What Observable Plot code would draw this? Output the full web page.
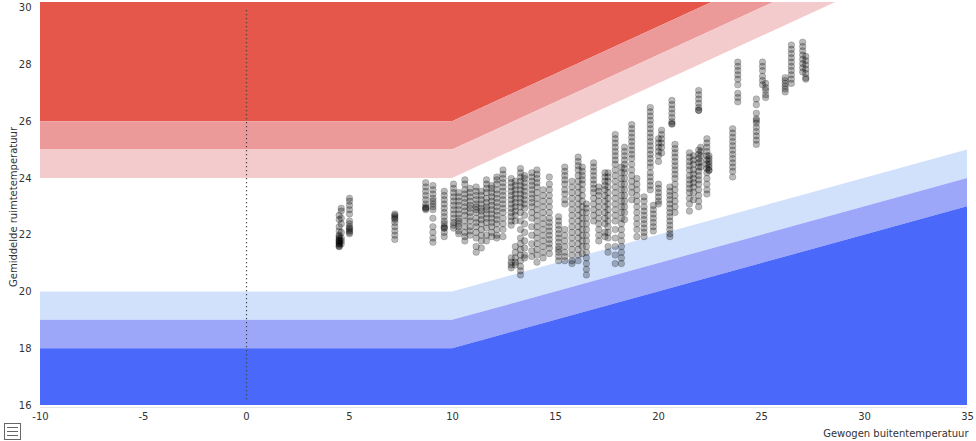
<!DOCTYPE html>
<html>
<head>
<meta charset="utf-8">
<script src="https://cdn.jsdelivr.net/npm/d3@7"></script>
<script src="https://cdn.jsdelivr.net/npm/@observablehq/plot@0.6"></script>
<style>
  html, body { margin: 0; padding: 0; background: #fff; }
  #wrap { position: relative; width: 976px; height: 441px; }
  #menu { position: absolute; left: 4px; top: 423px; }
</style>
</head>
<body>
<div id="wrap"></div>
<script>
// Axis ticks
const xTicks = [-10, -5, 0, 5, 10, 15, 20, 25, 30, 35];
const yTicks = [16, 18, 20, 22, 24, 26, 28, 30];

// Comfort band boundaries (outdoor temperature breakpoints)
const bandX  = [-10, 10, 35];
const upperA = [24, 24, 32.33];
const upperB = [25, 25, 33.33];
const upperC = [26, 26, 34.33];
const lowerA = [20, 20, 25];
const lowerB = [19, 19, 24];
const lowerC = [18, 18, 23];

// Measurements: weighted outdoor temperature per column, with room temperatures
const outdoorTemp = [
  4.5, 4.6, 5.0, 7.2, 8.7, 9.05, 9.6, 10.05, 10.3, 10.6,
  10.85, 11.15, 11.4, 11.65, 11.9, 12.15, 12.45, 12.85, 13.05, 13.3,
  13.5, 13.85, 14.1, 14.4, 14.7, 15.15, 15.45, 15.8, 16.1, 16.3,
  16.5, 16.85, 17.1, 17.4, 17.55, 17.9, 18.2, 18.35, 18.7, 18.95,
  19.3, 19.6, 19.75, 20.0, 20.15, 20.55, 20.65, 20.8, 21.5, 21.7,
  21.95, 22.05, 22.35, 22.45, 23.6, 23.85, 24.75, 25.05, 25.2, 26.15,
  26.45, 27.0, 27.15
];
const roomTemp = [
  [22.7, 22.55, 22.3, 22.15, 22.0, 21.95, 21.9, 21.85, 21.8, 21.8, 21.75, 21.7, 21.7, 21.65, 21.6, 21.6],
  [22.95, 22.85, 22.6, 22.4, 22.1, 21.9, 21.8, 21.7],
  [23.3, 23.2, 23.05, 22.9, 22.75, 22.5, 22.4, 22.3, 22.25, 22.2, 22.15, 22.1, 22.05],
  [22.75, 22.7, 22.65, 22.6, 22.55, 22.45, 22.3, 22.15, 22.0, 21.85],
  [23.85, 23.7, 23.55, 23.4, 23.25, 23.1, 23.0, 22.95, 22.95, 22.9],
  [23.75, 23.6, 23.45, 23.3, 23.2, 23.1, 23.0, 22.9, 22.6, 22.3, 22.1, 21.9, 21.75],
  [23.55, 23.4, 23.25, 23.1, 22.95, 22.8, 22.65, 22.5, 22.4, 22.3, 22.25, 22.25, 22.1, 21.95],
  [23.8, 23.65, 23.5, 23.35, 23.2, 23.05, 22.9, 22.75, 22.6, 22.45, 22.35, 22.25],
  [23.5, 23.35, 23.2, 23.05, 22.9, 22.75, 22.6, 22.5, 22.4, 22.3, 22.15, 22.05],
  [23.95, 23.8, 23.6, 23.45, 23.3, 23.15, 23.0, 22.85, 22.7, 22.5, 22.3, 22.1, 21.95, 21.8],
  [23.65, 23.5, 23.35, 23.2, 23.05, 22.95, 22.8, 22.65, 22.5, 22.3, 22.15, 22.0],
  [23.7, 23.55, 23.4, 23.25, 23.1, 23.0, 22.9, 22.8, 22.6, 22.45, 22.3, 22.1, 21.9, 21.6, 21.4],
  [23.55, 23.4, 23.25, 23.1, 22.95, 22.85, 22.7, 22.55, 22.4, 22.2, 22.0, 21.8, 21.55],
  [23.95, 23.8, 23.65, 23.5, 23.3, 23.15, 23.0, 22.9, 22.75, 22.6, 22.45, 22.25, 22.0, 21.8],
  [23.75, 23.65, 23.5, 23.35, 23.2, 23.05, 22.9, 22.75, 22.6, 22.45, 22.3, 22.1, 21.95],
  [24.05, 23.95, 23.8, 23.6, 23.45, 23.3, 23.15, 23.0, 22.85, 22.7, 22.55, 22.4, 22.2, 22.0, 21.9],
  [24.3, 24.15, 24.0, 23.85, 23.7, 23.55, 23.4, 23.25, 23.1, 22.95, 22.8, 22.6, 22.4, 22.2, 21.95],
  [24.0, 23.85, 23.7, 23.55, 23.4, 23.25, 23.1, 22.95, 22.8, 22.65, 22.5, 22.35, 21.2, 21.05, 20.95, 20.85],
  [23.9, 23.75, 23.6, 23.45, 23.3, 23.15, 23.0, 22.85, 22.7, 22.5, 21.6, 21.4, 21.2, 21.05, 20.95],
  [24.35, 24.2, 24.05, 23.9, 23.75, 23.6, 23.45, 23.3, 23.15, 23.0, 22.8, 22.5, 22.2, 21.9, 21.7, 21.5, 21.3, 21.1, 20.9, 20.75, 20.6],
  [24.1, 24.0, 23.85, 23.7, 23.55, 23.4, 23.25, 23.1, 22.95, 22.7, 22.4, 22.1, 21.8, 21.55, 21.3, 21.2],
  [24.2, 24.05, 23.9, 23.75, 23.6, 23.45, 23.3, 23.15, 23.0, 22.8, 22.6, 22.3, 22.0, 21.7, 21.45, 21.25],
  [24.3, 24.15, 24.0, 23.85, 23.7, 23.5, 23.3, 23.1, 22.9, 22.7, 22.5, 22.3, 22.1, 21.9, 21.7, 21.5, 21.3, 21.05],
  [23.6, 23.4, 23.2, 23.0, 22.8, 22.6, 22.4, 22.2, 22.0, 21.8, 21.6, 21.4, 21.2],
  [24.05, 23.8, 23.6, 23.4, 23.2, 23.0, 22.8, 22.6, 22.45, 22.3, 22.15, 22.0, 21.85, 21.7, 21.55, 21.35],
  [22.65, 22.5, 22.35, 22.2, 22.05, 21.9, 21.75, 21.6, 21.5, 21.4, 21.25, 21.1],
  [24.4, 24.25, 24.1, 23.95, 23.8, 23.6, 23.45, 23.25, 23.1, 22.2, 22.0, 21.8, 21.6, 21.4, 21.25, 21.1],
  [23.9, 23.7, 23.5, 23.3, 23.1, 22.9, 22.7, 22.5, 22.3, 22.1, 21.9, 21.7, 21.5, 21.3, 21.1, 21.0],
  [24.75, 24.6, 24.45, 24.3, 24.1, 23.9, 23.7, 23.5, 23.3, 23.1, 22.9, 22.7, 22.5, 22.3, 22.1, 21.9, 21.7, 21.5, 21.3, 21.1],
  [24.4, 24.25, 24.1, 23.95, 23.8, 23.6, 23.4, 23.2, 23.0, 22.8, 22.6, 22.4, 22.2, 22.0, 21.8, 21.6, 21.35],
  [23.1, 22.95, 22.8, 22.6, 22.4, 22.2, 22.0, 21.8, 21.6, 21.4, 21.2, 21.0, 20.8, 20.6],
  [24.55, 24.4, 24.25, 24.1, 23.95, 23.8, 23.65, 23.5, 23.3, 23.1, 22.9, 22.7, 22.5],
  [23.7, 23.55, 23.4, 23.2, 23.0, 22.8, 22.6, 22.4, 22.2, 22.0, 21.8],
  [24.2, 24.05, 23.9, 23.75, 23.6, 23.4, 23.2, 23.0, 22.8, 22.6, 22.4, 22.1, 21.95],
  [24.2, 24.05, 23.9, 23.7, 23.5, 23.3, 23.1, 22.9, 22.7, 22.5, 22.3, 22.1, 21.9, 21.6, 21.4],
  [25.55, 25.4, 25.25, 25.1, 24.95, 24.8, 24.65, 24.5, 24.3, 24.1, 23.9, 23.7, 23.5, 23.3, 23.1, 22.9, 22.7, 22.5, 22.2, 21.9, 21.6, 21.3, 21.0],
  [24.4, 24.2, 24.0, 23.8, 23.6, 23.4, 23.2, 23.0, 22.8, 22.6, 22.4, 22.2, 22.0, 21.8, 21.6, 21.4, 21.2, 21.0],
  [25.1, 24.95, 24.8, 24.65, 24.5, 24.35, 24.2, 24.0, 23.8, 23.6, 23.4, 23.2, 23.0, 22.8, 22.55],
  [25.9, 25.75, 25.6, 25.45, 25.3, 25.15, 25.0, 24.85, 24.7, 24.5, 24.3, 24.1, 23.9, 23.7, 23.5, 23.25],
  [24.0, 23.8, 23.6, 23.4, 23.2, 23.0, 22.8, 22.6, 22.4, 22.2, 21.95],
  [23.35, 23.2, 23.0, 22.85, 22.7, 22.55, 22.4, 22.25, 22.1, 21.95],
  [26.5, 26.35, 26.2, 26.05, 25.9, 25.75, 25.6, 25.45, 25.3, 25.15, 25.0, 24.85, 24.7, 24.55, 24.4, 24.2, 24.05, 23.9, 23.75, 23.6],
  [23.05, 22.9, 22.75, 22.6, 22.45, 22.3, 22.15],
  [25.4, 25.25, 25.1, 24.95, 24.8, 24.6, 23.8, 23.65, 23.5, 23.35, 23.2, 23.1],
  [25.7, 25.55, 25.4, 25.25, 25.1, 24.9],
  [23.7, 23.55, 23.4, 23.25, 23.1, 22.95, 22.8, 22.65, 22.5, 22.35, 22.2, 22.05, 21.95],
  [26.75, 26.6, 26.45, 26.3, 26.15, 26.0, 25.92, 25.92],
  [25.2, 25.05, 24.9, 24.75, 24.6, 24.45, 24.3, 24.15, 24.0, 23.8, 23.6, 23.4, 23.2, 23.0, 22.8],
  [24.9, 24.75, 24.6, 24.45, 24.3, 24.1, 23.95, 23.8, 23.65, 23.5, 23.3, 23.1, 22.85],
  [24.8, 24.65, 24.5, 24.3, 24.15, 24.0, 23.85, 23.7, 23.5, 23.25],
  [27.1, 26.95, 26.8, 26.65, 26.5, 26.4, 26.4, 25.0, 24.85, 24.7, 24.55, 24.4, 24.25, 24.1, 23.95, 23.8, 23.6, 23.4, 23.2, 23.0],
  [25.1, 24.95, 24.8, 24.6, 24.4],
  [25.4, 25.25, 25.1, 24.95, 24.8, 24.65, 24.5, 24.35, 24.2, 24.0, 23.8, 23.6, 23.45],
  [24.8, 24.7, 24.6, 24.5, 24.4, 24.3, 24.28],
  [25.75, 25.6, 25.45, 25.3, 25.15, 25.0, 24.85, 24.7, 24.55, 24.4, 24.25, 24.05],
  [28.1, 27.95, 27.8, 27.65, 27.5, 27.3, 27.0, 26.85, 26.7],
  [26.8, 26.6, 26.3, 26.1, 26.04, 25.95, 25.8, 25.65, 25.5, 25.35, 25.2],
  [28.1, 27.95, 27.8, 27.6, 27.45, 27.3],
  [27.35, 27.2, 27.1, 26.95, 26.85],
  [27.55, 27.45, 27.35, 27.25, 27.15, 27.05],
  [28.7, 28.55, 28.4, 28.25, 28.1, 27.95, 27.8, 27.65, 27.5, 27.35],
  [28.8, 28.65, 28.5, 28.35, 28.2, 28.05, 27.9, 27.75],
  [28.3, 28.15, 28.0, 27.85, 27.7, 27.55, 27.5]
];

const points = outdoorTemp.flatMap((x, i) => roomTemp[i].map(y => ({x, y})));
const bands = bandX.map((x, i) => ({
  x, uA: upperA[i], uB: upperB[i], uC: upperC[i], lA: lowerA[i], lB: lowerB[i], lC: lowerC[i]
}));

const font = "'DejaVu Sans', Verdana, sans-serif";

const chart = Plot.plot({
  width: 976,
  height: 441,
  marginLeft: 40,
  marginRight: 9,
  marginTop: 2,
  marginBottom: 36,
  style: {fontFamily: font, fontSize: "10px", color: "#333", background: "#fff", overflow: "visible"},
  x: {domain: [-10, 35], ticks: xTicks, tickSize: 0, tickPadding: 7, tickFormat: d => String(d), label: null},
  y: {domain: [16, 30.2], ticks: yTicks, tickSize: 0, tickPadding: 9, tickFormat: d => String(d), label: null},
  marks: [
    // red (too warm) zones
    Plot.areaY(bands, {x: "x", y1: "uC", y2: () => 40, fill: "#e5574b", clip: true}),
    Plot.areaY(bands, {x: "x", y1: "uB", y2: "uC", fill: "#ec9999", clip: true}),
    Plot.areaY(bands, {x: "x", y1: "uA", y2: "uB", fill: "#f4cbcc", clip: true}),
    // blue (too cold) zones
    Plot.areaY(bands, {x: "x", y1: "lB", y2: "lA", fill: "#d1e1fc", clip: true}),
    Plot.areaY(bands, {x: "x", y1: "lC", y2: "lB", fill: "#9da7fa", clip: true}),
    Plot.areaY(bands, {x: "x", y1: () => 10, y2: "lC", fill: "#4a68fa", clip: true}),
    // axis baseline
    Plot.ruleY([16], {stroke: "#e6e6e6", dy: 2}),
    // dotted zero line
    Plot.ruleX([0], {y1: 16.2, y2: 30, stroke: "#444", strokeDasharray: "1.2 2.8", strokeWidth: 1.2}),
    // measurements
    Plot.dot(points, {x: "x", y: "y", r: 3.3, fill: "#000", fillOpacity: 0.27, stroke: "#000", strokeOpacity: 0.16, strokeWidth: 1}),
    // axis titles
    Plot.text(["Gewogen buitentemperatuur"], {frameAnchor: "bottom-right", dx: 1, dy: 28, textAnchor: "end", lineAnchor: "middle", fontSize: 10, fill: "#333"}),
    Plot.text(["Gemiddelde ruimtetemperatuur"], {frameAnchor: "left", dx: -27, dy: 3, rotate: -90, textAnchor: "middle", lineAnchor: "middle", fontSize: 10, fill: "#333"})
  ]
});

document.getElementById("wrap").appendChild(chart);

// export menu icon
const menu = document.createElement("div");
menu.id = "menu";
menu.innerHTML = '<svg width="17" height="17" viewBox="0 0 17 17">' +
  '<rect x="0.5" y="0.5" width="16" height="16" fill="#fff" stroke="#666"/>' +
  '<line x1="3" x2="14" y1="4.5" y2="4.5" stroke="#666"/>' +
  '<line x1="3" x2="14" y1="8.5" y2="8.5" stroke="#666"/>' +
  '<line x1="3" x2="14" y1="12.5" y2="12.5" stroke="#666"/></svg>';
document.getElementById("wrap").appendChild(menu);
</script>
</body>
</html>
